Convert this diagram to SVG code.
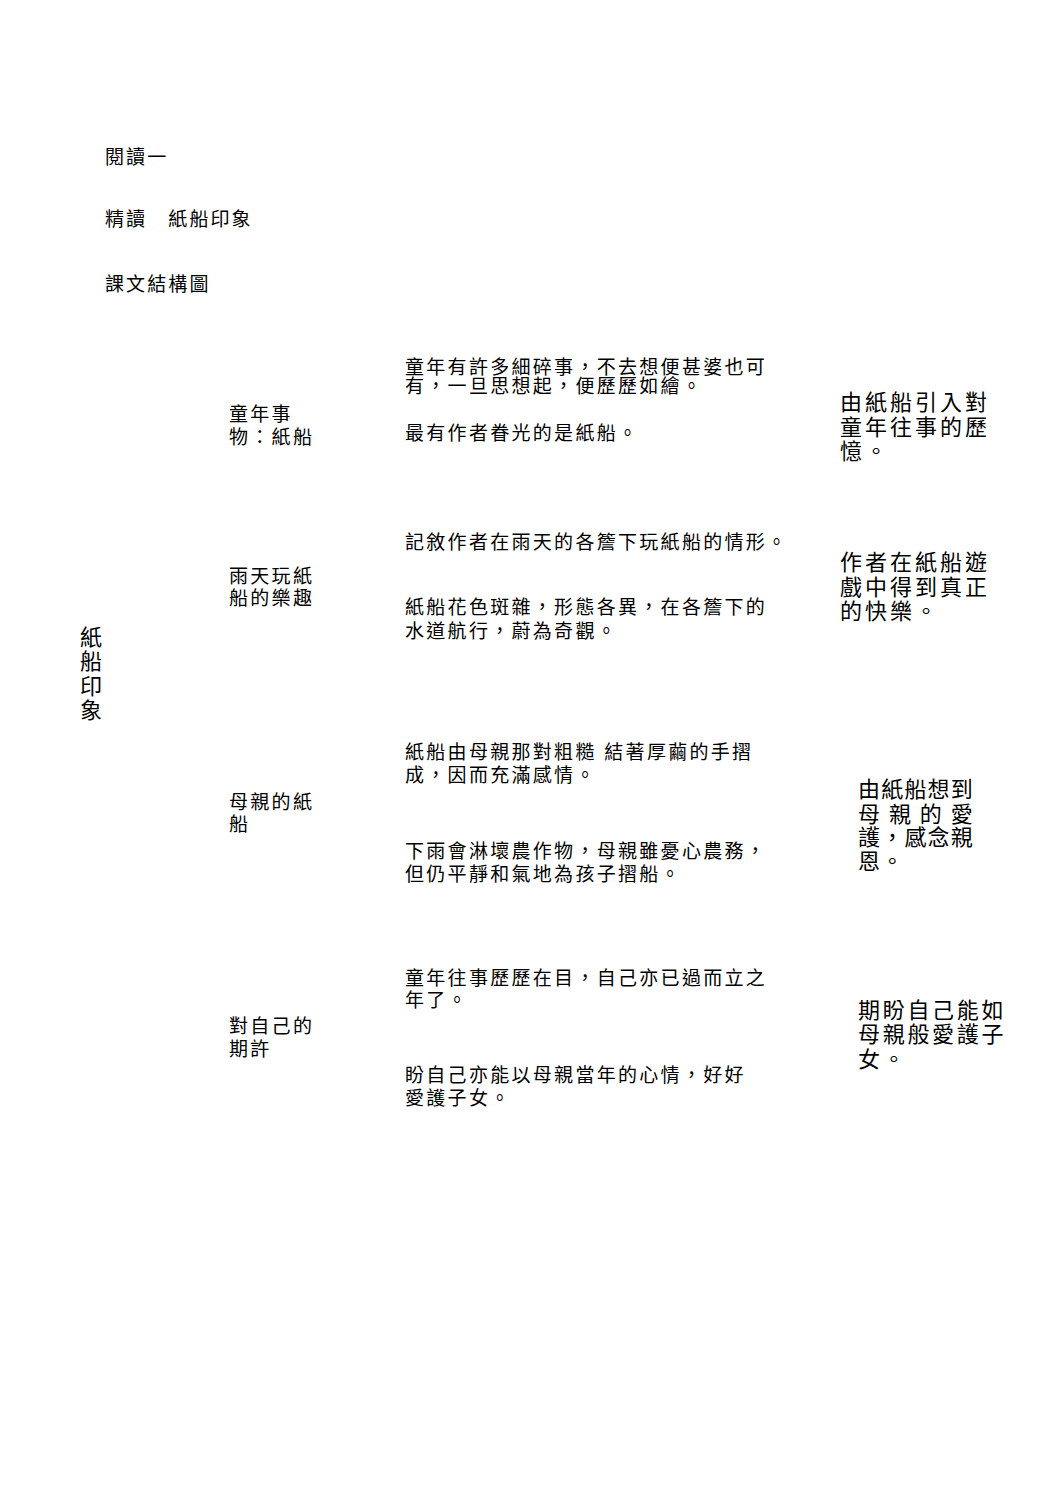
<svg xmlns="http://www.w3.org/2000/svg" width="1062" height="1506" viewBox="0 0 1062 1506">
<style>
text{font-family:"Liberation Sans","Noto Sans CJK TC",sans-serif;fill:#000;}
.h{font-size:19px;letter-spacing:2.1px;}
.m{font-size:19px;letter-spacing:2.3px;}
.r{font-size:22px;letter-spacing:3px;}
.r2{font-size:22px;letter-spacing:1.2px;}
.r3{font-size:22px;letter-spacing:2.7px;}
.l{font-size:22px;}
</style>
<rect width="1062" height="1506" fill="#fff"/>
<g id="header">
<text class="h" x="105" y="164">閱讀一</text>
<text class="h" x="105" y="226">精讀　紙船印象</text>
<text class="h" x="105" y="291">課文結構圖</text>
</g>
<g id="root">
<text class="l" x="80" y="645">紙</text>
<text class="l" x="80" y="669">船</text>
<text class="l" x="80" y="694">印</text>
<text class="l" x="80" y="718">象</text>
</g>
<g id="topic1">
<text class="m" x="229" y="421">童年事</text>
<text class="m" x="229" y="444">物：紙船</text>
</g>
<g id="topic2">
<text class="m" x="229" y="583">雨天玩紙</text>
<text class="m" x="229" y="605">船的樂趣</text>
</g>
<g id="topic3">
<text class="m" x="229" y="809">母親的紙</text>
<text class="m" x="229" y="831">船</text>
</g>
<g id="topic4">
<text class="m" x="229" y="1033">對自己的</text>
<text class="m" x="229" y="1056">期許</text>
</g>
<g id="detail1a">
<text class="m" x="405" y="374">童年有許多細碎事，不去想便甚婆也可</text>
<text class="m" x="405" y="393">有，一旦思想起，便歷歷如繪。</text>
</g>
<g id="detail1b">
<text class="m" x="405" y="440">最有作者眷光的是紙船。</text>
</g>
<g id="detail2a">
<text class="m" x="405" y="549">記敘作者在雨天的各簷下玩紙船的情形。</text>
</g>
<g id="detail2b">
<text class="m" x="405" y="614">紙船花色斑雜，形態各異，在各簷下的</text>
<text class="m" x="405" y="638">水道航行，蔚為奇觀。</text>
</g>
<g id="detail3a">
<text class="m" x="405" y="759">紙船由母親那對粗糙 結著厚繭的手摺</text>
<text class="m" x="405" y="782">成，因而充滿感情。</text>
</g>
<g id="detail3b">
<text class="m" x="405" y="858">下雨會淋壞農作物，母親雖憂心農務，</text>
<text class="m" x="405" y="881">但仍平靜和氣地為孩子摺船。</text>
</g>
<g id="detail4a">
<text class="m" x="405" y="985">童年往事歷歷在目，自己亦已過而立之</text>
<text class="m" x="405" y="1007">年了。</text>
</g>
<g id="detail4b">
<text class="m" x="405" y="1082">盼自己亦能以母親當年的心情，好好</text>
<text class="m" x="405" y="1105">愛護子女。</text>
</g>
<g id="summary1">
<text class="r" x="840" y="410">由紙船引入對</text>
<text class="r" x="840" y="435">童年往事的歷</text>
<text class="r" x="840" y="459">憶。</text>
</g>
<g id="summary2">
<text class="r" x="840" y="570">作者在紙船遊</text>
<text class="r" x="840" y="595">戲中得到真正</text>
<text class="r" x="840" y="619">的快樂。</text>
</g>
<g id="summary3">
<text class="r2" x="858" y="797">由紙船想到</text>
<text class="r2" x="858" y="822" textLength="116" lengthAdjust="spacing">母 親 的 愛</text>
<text class="r2" x="858" y="845">護，感念親</text>
<text class="r2" x="858" y="869">恩。</text>
</g>
<g id="summary4">
<text class="r3" x="858" y="1018">期盼自己能如</text>
<text class="r3" x="858" y="1042">母親般愛護子</text>
<text class="r3" x="858" y="1067">女。</text>
</g>
</svg>
